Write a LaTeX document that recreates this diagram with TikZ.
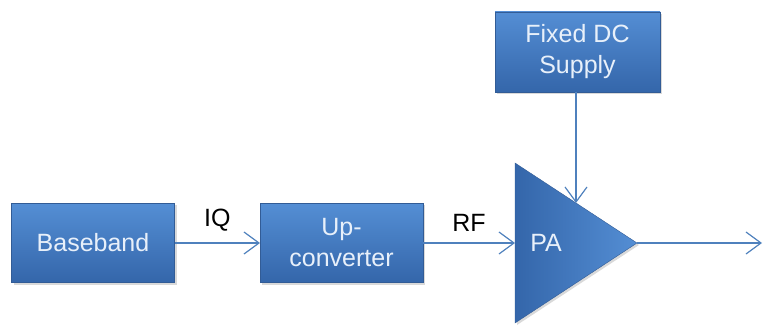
\documentclass[tikz,border=0pt]{standalone}
\usepackage{fontspec}
\setmainfont{Liberation Sans}
\usetikzlibrary{arrows.meta,shapes.geometric,shadows}
\definecolor{wire}{RGB}{79,129,189}
\definecolor{boxtop}{RGB}{84,142,212}
\definecolor{boxbot}{RGB}{52,102,170}
\definecolor{boxedge}{RGB}{50,92,150}
\definecolor{boxtext}{RGB}{232,240,250}
\tikzset{
	block/.style={draw=boxedge,top color=boxtop,bottom color=boxbot,
		minimum width=163pt,minimum height=79pt,inner sep=0pt,outer sep=0pt,
		text=boxtext,align=center,font=\fontsize{25}{31}\selectfont,
		drop shadow={shadow xshift=2pt,shadow yshift=-2pt,opacity=0.3}},
	amp/.style={isosceles triangle,isosceles triangle stretches,draw=boxedge,
		left color=boxbot,right color=boxtop,
		minimum width=160pt,minimum height=122pt,inner sep=0pt,outer sep=0pt,
		drop shadow={shadow xshift=2pt,shadow yshift=-2pt,opacity=0.3}},
	wirelabel/.style={font=\fontsize{25}{30}\selectfont,text=black}
}
\begin{document}
\begin{tikzpicture}[>={Straight Barb[length=15pt,width=22pt]},x=1pt,y=1pt]
	\useasboundingbox (0,0) rectangle (763,327);
	\begin{scope}
		\node[block] (baseband) at (93,84) {Baseband};
		\node[block] (upconv) at (341.5,84) {Up-\\converter};
		\node[block,minimum width=165pt,minimum height=80pt] (dcsupply) at (577.5,275) {Fixed DC\\Supply};
		\node[amp,anchor=lower side] (pa) at (515,84) {};
		\node[text=boxtext,font=\fontsize{25}{30}\selectfont] (palabel) at (546,84) {PA};
		\coordinate (rfout) at (762,84);
	\end{scope}
	
	\begin{scope}[draw=wire,line width=1.2pt]
		\draw[->] (baseband) -- (upconv) node[midway,above=8pt,wirelabel]{IQ};
		\draw[->] (upconv) -- (pa.lower side) node[midway,above=8pt,wirelabel]{RF};
		\draw[->] (dcsupply.south -| pa.left side) -- (pa.left side);
		\draw[->] (pa.apex) -- (rfout);
	\end{scope}
\end{tikzpicture}
\end{document}
